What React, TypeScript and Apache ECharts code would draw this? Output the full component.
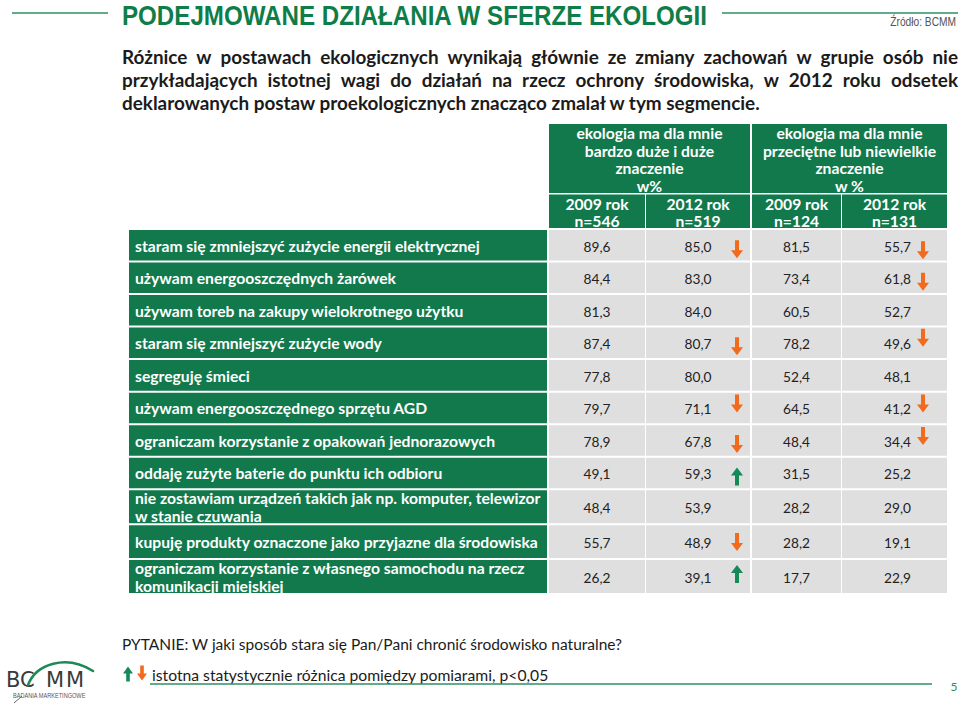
import React, { useEffect, useRef } from "react";
import * as echarts from "echarts";

// ---------- data ----------
const title = "PODEJMOWANE DZIAŁANIA W SFERZE EKOLOGII";
const source = "Źródło: BCMM";
const introLines = [
  "Różnice w postawach ekologicznych wynikają głównie ze zmiany zachowań w grupie osób nie",
  "przykładających istotnej wagi do działań na rzecz ochrony środowiska, w 2012 roku odsetek",
  "deklarowanych postaw proekologicznych znacząco zmalał w tym segmencie.",
];
const groupHeaders = [
  "ekologia ma dla mnie\nbardzo duże i duże\nznaczenie\nw%",
  "ekologia ma dla mnie\nprzeciętne lub niewielkie\nznaczenie\nw %",
];
const yearHeaders = ["2009 rok\nn=546", "2012 rok\nn=519", "2009 rok\nn=124", "2012 rok\nn=131"];
const activities = [
  "staram się zmniejszyć zużycie energii elektrycznej",
  "używam energooszczędnych żarówek",
  "używam toreb na zakupy wielokrotnego użytku",
  "staram się zmniejszyć zużycie wody",
  "segreguję śmieci",
  "używam energooszczędnego sprzętu AGD",
  "ograniczam korzystanie z opakowań jednorazowych",
  "oddaję zużyte baterie do punktu ich odbioru",
  "nie zostawiam urządzeń takich jak np. komputer, telewizor\nw stanie czuwania",
  "kupuję produkty oznaczone jako przyjazne dla środowiska",
  "ograniczam korzystanie z własnego samochodu na rzecz\nkomunikacji miejskiej",
];
const high2009 = [89.6, 84.4, 81.3, 87.4, 77.8, 79.7, 78.9, 49.1, 48.4, 55.7, 26.2];
const high2012 = [85.0, 83.0, 84.0, 80.7, 80.0, 71.1, 67.8, 59.3, 53.9, 48.9, 39.1];
const low2009 = [81.5, 73.4, 60.5, 78.2, 52.4, 64.5, 48.4, 31.5, 28.2, 28.2, 17.7];
const low2012 = [55.7, 61.8, 52.7, 49.6, 48.1, 41.2, 34.4, 25.2, 29.0, 19.1, 22.9];
// significant change: -1 decrease, 1 increase, 0 none
const highChange = [-1, 0, 0, -1, 0, -1, -1, 1, 0, -1, 1];
const lowChange = [-1, -1, 0, -1, 0, -1, -1, 0, 0, 0, 0];
const question = "PYTANIE: W jaki sposób stara się Pan/Pani chronić środowisko naturalne?";
const legendNote = "istotna statystycznie różnica pomiędzy pomiarami, p<0,05";
const pageNumber = "5";
const logoLetters = ["B", "C", "M", "M"];
const logoTagline = "BADANIA MARKETINGOWE";

// ---------- layout / style ----------
const GREEN = "#12794c";
const TITLE_GREEN = "#0f7d47";
const LINE_GREEN = "#2f8f63";
const ORANGE = "#f26a1b";
const UP_GREEN = "#138a57";
const GRAY = "#dfdfdf";
const FONT = "Lato";

const GRID = { left: 129, right: 13, top: 124, bottom: 109 };
const X_EDGES = [0, 420, 517, 623, 713, 818];
const COL_GAP = [2, 1, 2, 1, 0];
const ROW_UNITS = [1, 1, 1, 1, 1, 1, 1, 1, 1.074, 1.074, 1.074];
const HEADER_UNITS = 3.259;
const GROUP_BOTTOM = -1.138;
const YEAR_TOP = -1.092;
const ARROW_DX: Record<number, number> = { 2: 91, 4: 81 };
// small vertical nudges of the arrow glyphs, as placed on the slide
const ARROW_DY: Record<number, number[]> = {
  2: [3.5, 0, 0, 3, 0, -5, 3, 3, 0, 0, -3],
  4: [4.5, 3.5, 0, -5.5, 0, -5, -5, 0, 0, 0, 0],
};
const LOGO_X = [6, 20, 46, 66];

const rowTops: number[] = [];
{
  let acc = 0;
  for (const u of ROW_UNITS) {
    rowTops.push(acc);
    acc += u;
  }
}
const ROW_TOTAL = ROW_UNITS.reduce((a, b) => a + b, 0);

// ---------- text measuring ----------
let ctx: CanvasRenderingContext2D | null = null;
function measure(text: string, font: string): number {
  if (!ctx) ctx = document.createElement("canvas").getContext("2d");
  if (!ctx) return text.length * 7;
  ctx.font = font;
  return ctx.measureText(text).width;
}
function fitSize(text: string, weight: string, family: string, target: number): number {
  const w = measure(text, `${weight} 20px ${family}`);
  return Math.round((20 * target / w) * 10) / 10;
}

const fmt = (v: number) => v.toFixed(1).replace(".", ",");

function arrowPoints(cx: number, cy: number, dir: number, h = 18, hw = 6, sw = 2, hh = 8) {
  const s = dir < 0 ? 1 : -1; // down: tip at bottom
  const top = cy - (s * h) / 2;
  const tip = cy + (s * h) / 2;
  const neck = tip - s * hh;
  return [
    [cx - sw, top],
    [cx + sw, top],
    [cx + sw, neck],
    [cx + hw, neck],
    [cx, tip],
    [cx - hw, neck],
    [cx - sw, neck],
  ];
}

function buildOption() {
  const labelSize = fitSize(activities[0], "bold", FONT, 346);
  const numSize = fitSize("89,6", "normal", FONT, 27);
  const introSize = fitSize(introLines[2], "bold", FONT, 640);
  const questionSize = fitSize(question, "normal", FONT, 500);
  const noteSize = fitSize(legendNote, "normal", FONT, 398);
  const titleSize = 27.5;
  const titleW = measure(title, `bold ${titleSize}px 'Liberation Sans'`);
  const titleScaleX = 586 / titleW;

  const valueCols = [high2009, high2012, low2009, low2012];
  const changeCols: Record<number, number[]> = { 2: highChange, 4: lowChange };

  const cellData: number[][] = [];
  activities.forEach((_, i) => {
    for (let c = 0; c < 5; c++) cellData.push([c, i]);
  });
  const headerData: number[][] = [
    [0, 0],
    [0, 1],
    [1, 0],
    [1, 1],
    [1, 2],
    [1, 3],
  ];

  const cellSeries = {
    type: "custom",
    coordinateSystem: "cartesian2d",
    data: cellData,
    silent: true,
    renderItem: (params: any, api: any) => {
      const c = api.value(0) as number;
      const i = api.value(1) as number;
      const p0 = api.coord([X_EDGES[c], rowTops[i]]);
      const p1 = api.coord([X_EDGES[c + 1], rowTops[i] + ROW_UNITS[i]]);
      const x = p0[0];
      const y = p0[1];
      const w = p1[0] - p0[0] - COL_GAP[c];
      const h = p1[1] - p0[1] - 2;
      const children: any[] = [
        { type: "rect", shape: { x, y, width: w, height: h }, style: { fill: c === 0 ? GREEN : GRAY } },
      ];
      if (c === 0) {
        children.push({
          type: "text",
          style: {
            text: activities[i],
            x: x + 6,
            y: y + h / 2 + 0.5,
            align: "left",
            verticalAlign: "middle",
            fill: "#ffffff",
            fontFamily: FONT,
            fontWeight: "bold",
            fontSize: labelSize,
            lineHeight: 18,
          },
        });
      } else {
        const v = valueCols[c - 1][i];
        children.push({
          type: "text",
          style: {
            text: fmt(v),
            x: x + w / 2 + (c === 4 ? 3 : 0),
            y: y + h / 2 + 1,
            align: "center",
            verticalAlign: "middle",
            fill: "#222222",
            fontFamily: FONT,
            fontSize: numSize,
          },
        });
        const ch = changeCols[c];
        if (ch && ch[i] !== 0) {
          children.push({
            type: "polygon",
            shape: { points: arrowPoints(x + ARROW_DX[c], y + h / 2 + 0.5 + ARROW_DY[c][i], ch[i]) },
            style: { fill: ch[i] < 0 ? ORANGE : UP_GREEN },
          });
        }
      }
      return { type: "group", children };
    },
  };

  const headerSeries = {
    type: "custom",
    coordinateSystem: "cartesian2d",
    data: headerData,
    silent: true,
    renderItem: (params: any, api: any) => {
      const kind = api.value(0) as number;
      const idx = api.value(1) as number;
      let x0: number, x1: number, y0: number, y1: number, text: string, lh: number;
      if (kind === 0) {
        x0 = X_EDGES[1 + idx * 2];
        x1 = X_EDGES[3 + idx * 2];
        y0 = -HEADER_UNITS;
        y1 = GROUP_BOTTOM;
        text = groupHeaders[idx];
        lh = 17.6;
      } else {
        x0 = X_EDGES[1 + idx];
        x1 = X_EDGES[2 + idx];
        y0 = YEAR_TOP;
        y1 = 0;
        text = yearHeaders[idx];
        lh = 17;
      }
      const p0 = api.coord([x0, y0]);
      const p1 = api.coord([x1, y1]);
      const gapR = kind === 0 ? (idx === 0 ? 2 : 0) : COL_GAP[1 + idx];
      const w = p1[0] - p0[0] - gapR;
      const h = p1[1] - p0[1] - (kind === 1 ? 2 : 0);
      return {
        type: "group",
        children: [
          { type: "rect", shape: { x: p0[0], y: p0[1], width: w, height: h }, style: { fill: GREEN } },
          {
            type: "text",
            style: {
              text,
              x: p0[0] + w / 2,
              y: p0[1] + h / 2 + 1,
              align: "center",
              verticalAlign: "middle",
              fill: "#ffffff",
              fontFamily: FONT,
              fontWeight: "bold",
              fontSize: labelSize,
              lineHeight: lh,
            },
          },
        ],
      };
    },
  };

  // intro paragraph: justified first lines
  const introFont = `bold ${introSize}px ${FONT}`;
  const introY = [56, 79, 102];
  const introLeft = 122;
  const introRight = 958;
  const graphics: any[] = [];
  introLines.forEach((line, li) => {
    if (li < introLines.length - 1) {
      const words = line.split(" ");
      const widths = words.map((wd) => measure(wd, introFont));
      const sum = widths.reduce((a, b) => a + b, 0);
      const gap = (introRight - introLeft - sum) / (words.length - 1);
      let x = introLeft;
      words.forEach((wd, k) => {
        graphics.push({
          type: "text",
          x,
          y: introY[li],
          style: {
            text: wd,
            fill: "#1b1b1b",
            fontFamily: FONT,
            fontWeight: "bold",
            fontSize: introSize,
            align: "left",
            verticalAlign: "middle",
          },
        });
        x += widths[k] + gap;
      });
    } else {
      graphics.push({
        type: "text",
        x: introLeft,
        y: introY[li],
        style: {
          text: line,
          fill: "#1b1b1b",
          fontFamily: FONT,
          fontWeight: "bold",
          fontSize: introSize,
          align: "left",
          verticalAlign: "middle",
        },
      });
    }
  });

  // title
  graphics.push(
    { type: "line", shape: { x1: 12, y1: 13, x2: 108, y2: 13 }, style: { stroke: LINE_GREEN, lineWidth: 1.5 } },
    { type: "line", shape: { x1: 722, y1: 13, x2: 958, y2: 13 }, style: { stroke: LINE_GREEN, lineWidth: 1.5 } },
    {
      type: "text",
      x: 122,
      y: 15,
      scaleX: titleScaleX,
      style: {
        text: title,
        fill: TITLE_GREEN,
        fontFamily: "'Liberation Sans'",
        fontWeight: "bold",
        fontSize: titleSize,
        align: "left",
        verticalAlign: "middle",
      },
    },
    {
      type: "text",
      x: 956,
      y: 22,
      scaleX: 0.85,
      style: {
        text: source,
        fill: "#555555",
        fontFamily: "'Liberation Sans'",
        fontSize: 12,
        align: "right",
        verticalAlign: "middle",
      },
    }
  );

  // footer
  graphics.push(
    {
      type: "text",
      x: 122,
      y: 644,
      style: {
        text: question,
        fill: "#1b1b1b",
        fontFamily: FONT,
        fontSize: questionSize,
        align: "left",
        verticalAlign: "middle",
      },
    },
    { type: "polygon", shape: { points: arrowPoints(128, 674, 1, 15, 5, 1.8, 7) }, style: { fill: UP_GREEN } },
    { type: "polygon", shape: { points: arrowPoints(142, 673, -1, 15, 5, 1.8, 7) }, style: { fill: ORANGE } },
    {
      type: "text",
      x: 152,
      y: 675,
      style: {
        text: legendNote,
        fill: "#1b1b1b",
        fontFamily: FONT,
        fontSize: noteSize,
        align: "left",
        verticalAlign: "middle",
      },
    },
    { type: "line", shape: { x1: 150, y1: 684, x2: 932, y2: 684 }, style: { stroke: LINE_GREEN, lineWidth: 1.5 } },
    {
      type: "text",
      x: 954,
      y: 686,
      style: { text: pageNumber, fill: LINE_GREEN, fontFamily: FONT, fontSize: 12, align: "center", verticalAlign: "middle" },
    }
  );

  // logo
  logoLetters.forEach((ch, k) => {
    graphics.push({
      type: "text",
      x: LOGO_X[k],
      y: 680,
      style: {
        text: ch,
        fill: "#3a3a3a",
        fontFamily: "'DejaVu Sans'",
        fontSize: 21,
        align: "left",
        verticalAlign: "middle",
      },
    });
  });
  graphics.push(
    {
      type: "bezierCurve",
      shape: { x1: 28, y1: 685, cpx1: 36, cpy1: 664, cpx2: 66, cpy2: 654, x2: 93, y2: 671 },
      style: { stroke: "#1d8a55", lineWidth: 2.6, fill: "none", lineCap: "round" },
    },
    {
      type: "text",
      x: 13,
      y: 695,
      scaleX: 0.8,
      style: {
        text: logoTagline,
        fill: "#555555",
        fontFamily: "'Liberation Sans'",
        fontSize: 7,
        align: "left",
        verticalAlign: "middle",
      },
    },
    { type: "line", shape: { x1: 14, y1: 703, x2: 22, y2: 696 }, style: { stroke: "#666", lineWidth: 1 } }
  );

  return {
    animation: false,
    backgroundColor: "#ffffff",
    grid: { ...GRID },
    xAxis: { type: "value", min: 0, max: X_EDGES[X_EDGES.length - 1], show: false },
    yAxis: { type: "value", min: -HEADER_UNITS, max: ROW_TOTAL, inverse: true, show: false },
    series: [headerSeries, cellSeries],
    graphic: graphics,
  };
}

export default function App() {
  const ref = useRef<HTMLDivElement>(null);
  useEffect(() => {
    if (!ref.current) return;
    const chart = echarts.init(ref.current, null, { renderer: "svg" });
    chart.setOption(buildOption() as any);
    return () => chart.dispose();
  }, []);
  return <div ref={ref} style={{ position: "absolute", left: 0, top: 0, width: 960, height: 704 }} />;
}
